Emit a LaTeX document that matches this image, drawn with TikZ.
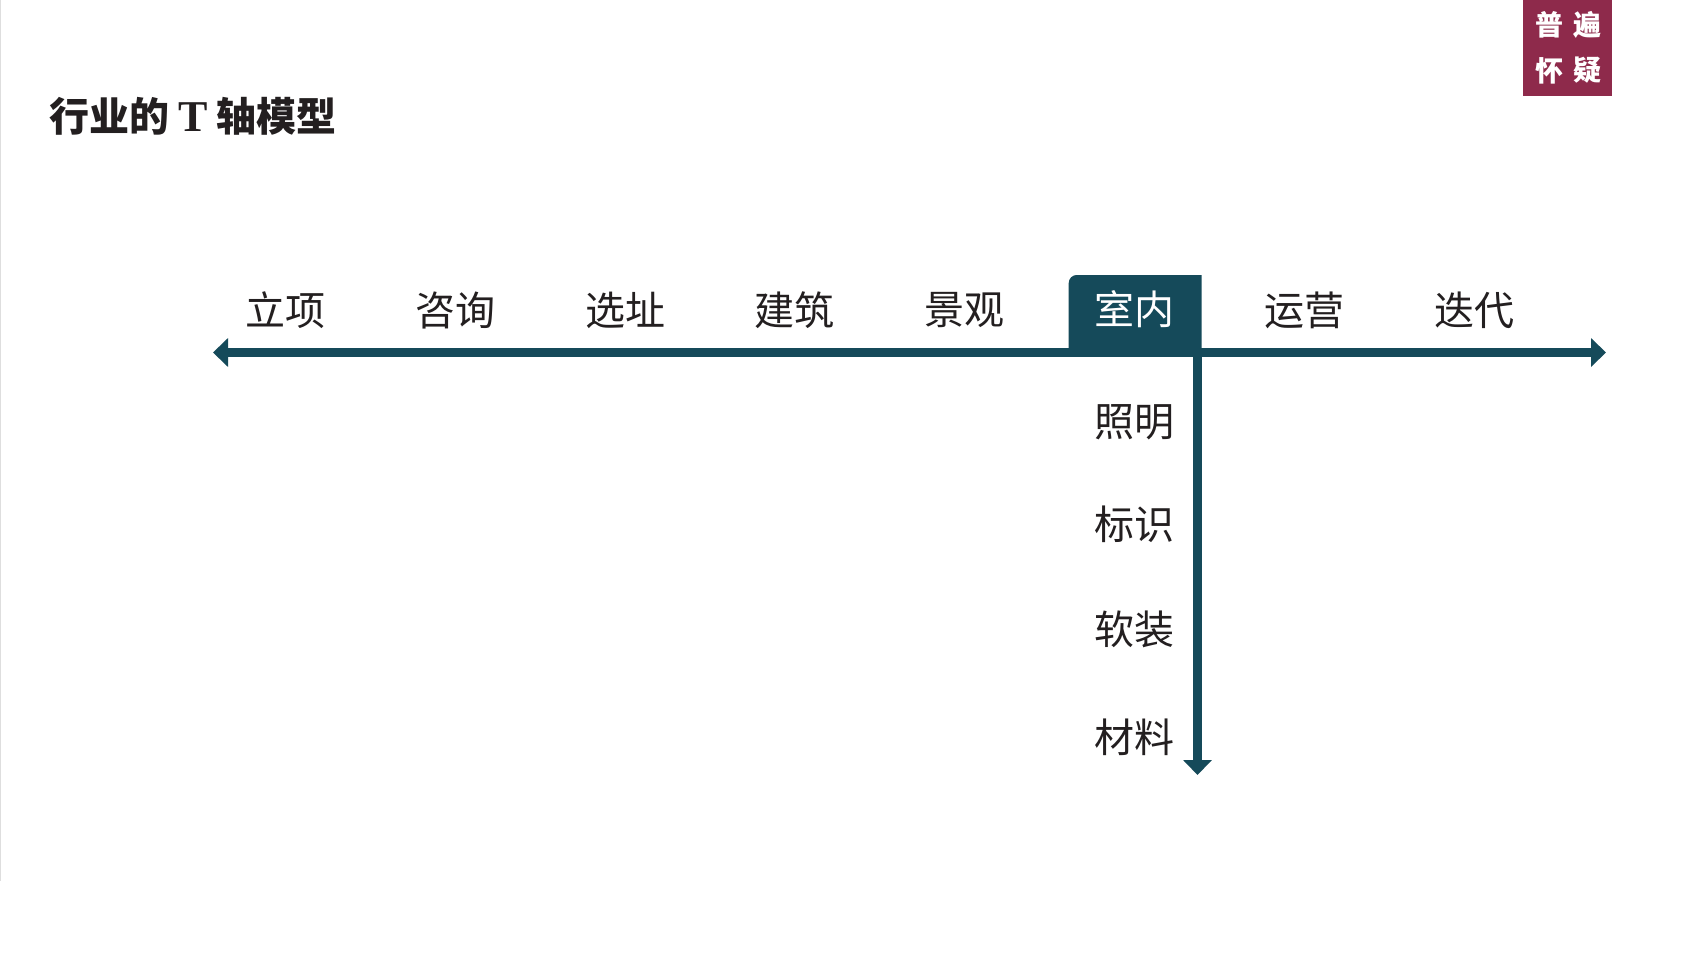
\documentclass[tikz,border=0pt]{standalone}
\usepackage{fontspec}
\setmainfont{Noto Sans CJK SC}
\newfontfamily\tserif{Liberation Serif}
\usetikzlibrary{arrows.meta}
\definecolor{tealc}{HTML}{154A5A}
\definecolor{wine}{HTML}{8E2A4B}
\definecolor{ink}{HTML}{231F20}
\tikzset{
  x=1pt,y=-1pt,
  lab/.style={font=\fontsize{40}{41}\selectfont,text=ink,inner sep=0pt,anchor=center},
  badge/.style={font=\fontsize{28}{29}\selectfont\bfseries,text=white,inner sep=0pt,anchor=center},
  axis/.style={draw=tealc,line width=9pt,-{Triangle[length=15pt,width=28pt]}},
  axisb/.style={draw=tealc,line width=9pt,{Triangle[length=15pt,width=28pt]}-{Triangle[length=15pt,width=28pt]}}
}
\begin{document}
\begin{tikzpicture}
\useasboundingbox (0,0) rectangle (1706,961);
\fill[white] (0,0) rectangle (1706,961);
\fill[black!13] (0,0) rectangle (1,881);
\fill[wine] (1522.5,0) rectangle (1611.5,96);
\node[badge] (b1) at (1549.2,25) {普};
\node[badge] (b2) at (1587,25) {遍};
\node[badge] (b3) at (1549.2,70.5) {怀};
\node[badge] (b4) at (1587,70.5) {疑};
\node[inner sep=0pt,anchor=west,text=ink,font=\fontsize{40}{41}\selectfont\bfseries] (title) at (49,116) {行业的 {\tserif\fontsize{44}{44}\selectfont T} 轴模型};
\fill[tealc] (1068.7,352) -- (1068.7,283) arc[start angle=180,end angle=270,radius=8] -- (1201.5,275) -- (1201.5,352) -- cycle;
\coordinate (hl) at (213,352.5);
\coordinate (hr) at (1606,352.5);
\coordinate (vt) at (1197.5,352.5);
\coordinate (vb) at (1197.5,775);
\draw[axisb] (hl) -- (hr);
\draw[axis] (vt) -- (vb);
\node[lab] (n1) at (285,310.5) {立项};
\node[lab] (n2) at (455.3,310.5) {咨询};
\node[lab] (n3) at (625,310.5) {选址};
\node[lab] (n4) at (794.6,310.5) {建筑};
\node[lab] (n5) at (964.5,310.5) {景观};
\node[lab,text=white] (n6) at (1134.2,309.5) {室内};
\node[lab] (n7) at (1304,310.5) {运营};
\node[lab] (n8) at (1474,310.5) {迭代};
\node[lab] (m1) at (1134.2,422.5) {照明};
\node[lab] (m2) at (1134.2,524) {标识};
\node[lab] (m3) at (1134.2,629) {软装};
\node[lab] (m4) at (1134.2,737) {材料};
\end{tikzpicture}
\end{document}
